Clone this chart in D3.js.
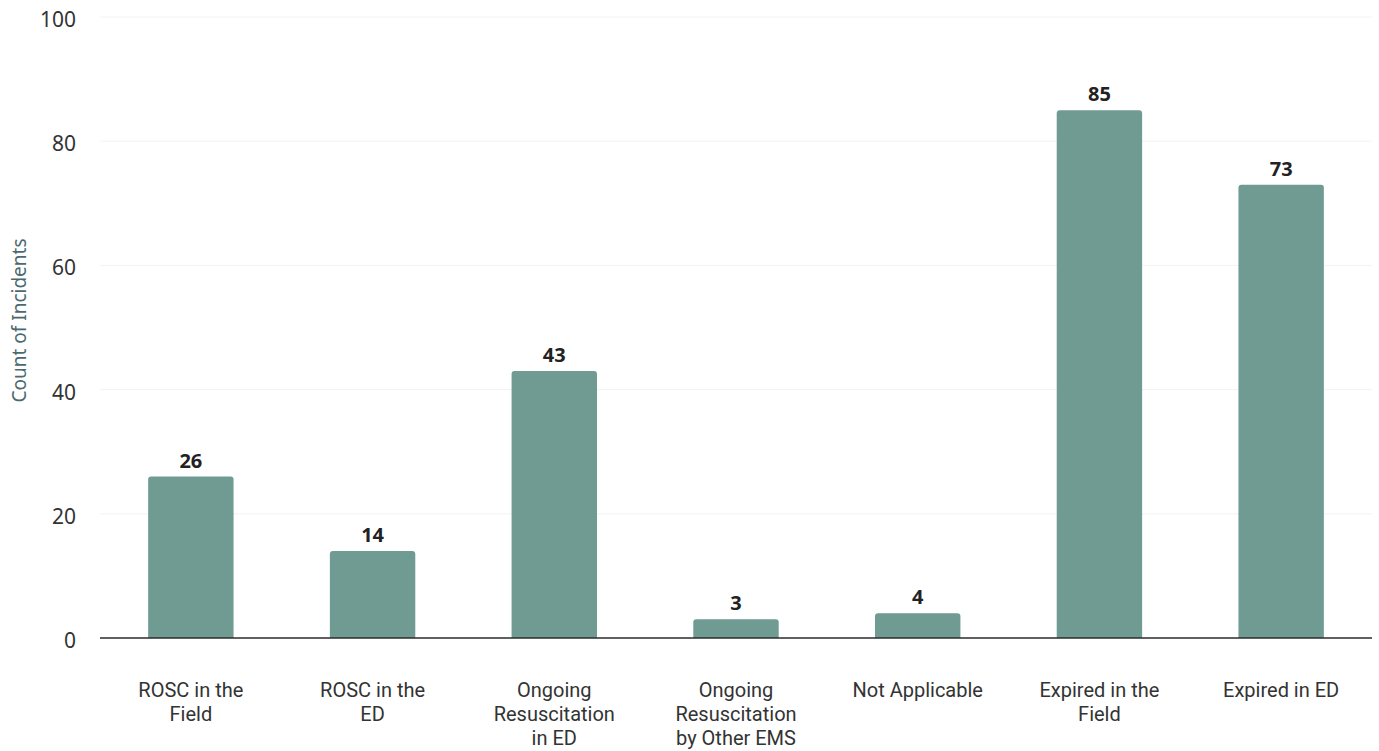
<!DOCTYPE html>
<html>
<head>
<meta charset="utf-8">
<script src="https://cdn.jsdelivr.net/npm/d3@7"></script>
<style>
  body { margin: 0; background: #fff; }
  text { font-family: "Noto Sans", "Open Sans", sans-serif; }
</style>
</head>
<body>
<svg id="chart_svg"></svg>
<script>
var viewWidth = 1379;
var viewHeight = 751;

// data
var categories = ["ROSC in the|Field", "ROSC in the|ED", "Ongoing|Resuscitation|in ED",
  "Ongoing|Resuscitation|by Other EMS", "Not Applicable", "Expired in the|Field", "Expired in ED"];
var counts = [26, 14, 43, 3, 4, 85, 73];
var yTicks = [0, 20, 40, 60, 80, 100];

var margin = {top: 17, right: 7, bottom: 113, left: 100};
var width = viewWidth - margin.left - margin.right;
var height = viewHeight - margin.top - margin.bottom;

var svg = d3.select("#chart_svg")
    .attr("width", viewWidth)
    .attr("height", viewHeight)
  .append("g")
    .attr("transform", "translate(" + margin.left + "," + margin.top + ")");

var x = d3.scaleBand()
  .domain(categories)
  .range([0, width])
  .paddingInner(0.53)
  .paddingOuter(0.265);
var y = d3.scaleLinear()
  .domain([0, 100])
  .range([height, 0]);

// faint gridlines
svg.append("g")
    .selectAll("line")
    .data(yTicks.filter(function(d) { return d > 0; }))
  .enter().append("line")
    .attr("x1", 0)
    .attr("x2", width)
    .attr("y1", function(d) { return y(d); })
    .attr("y2", function(d) { return y(d); })
    .style("stroke", "#f2f2f2")
    .style("stroke-width", 1);

// y axis (labels only)
var yAxis = d3.axisLeft(y).tickValues(yTicks).tickSize(0).tickPadding(24);
svg.append("g")
    .attr("class", "y axis")
    .call(yAxis)
    .call(function(g) { g.select(".domain").remove(); })
    .selectAll("text")
    .attr("dy", "0.45em")
    .style("font-size", "21px")
    .style("fill", "#333");

svg.append("text")
    .attr("transform", "rotate(-90)")
    .attr("x", -y(50) + 7)
    .attr("y", -74)
    .style("text-anchor", "middle")
    .style("font-size", "19px")
    .style("fill", "#4a6a6f")
    .text("Count of Incidents");

// bars with rounded tops
var r = 3;
function barPath(d, i) {
  var x0 = x(categories[i]), w = x.bandwidth();
  var y0 = y(d), y1 = y(0);
  var rr = Math.min(r, (y1 - y0));
  return "M" + x0 + "," + y1 +
    "V" + (y0 + rr) +
    "Q" + x0 + "," + y0 + " " + (x0 + rr) + "," + y0 +
    "H" + (x0 + w - rr) +
    "Q" + (x0 + w) + "," + y0 + " " + (x0 + w) + "," + (y0 + rr) +
    "V" + y1 + "Z";
}

svg.selectAll(".bar")
    .data(counts)
  .enter().append("path")
    .attr("class", "bar")
    .attr("d", barPath)
    .style("fill", "#6f9b92");

svg.selectAll(".value")
    .data(counts)
  .enter().append("text")
    .attr("class", "value")
    .attr("x", function(d, i) { return x(categories[i]) + x.bandwidth() / 2; })
    .attr("y", function(d) { return y(d) - 9; })
    .style("text-anchor", "middle")
    .style("font-size", "20px")
    .style("font-weight", "bold")
    .style("fill", "#222")
    .text(function(d) { return d; });

// baseline
svg.append("line")
    .attr("x1", 0)
    .attr("x2", width)
    .attr("y1", y(0))
    .attr("y2", y(0))
    .style("stroke", "#2b2b2b")
    .style("stroke-width", 1.5);

// x labels, wrapped
var xLabels = svg.append("g")
    .attr("transform", "translate(0," + y(0) + ")")
    .selectAll("text")
    .data(categories)
  .enter().append("text")
    .attr("x", function(d) { return x(d) + x.bandwidth() / 2; })
    .attr("y", 59)
    .style("text-anchor", "middle")
    .style("font-family", "Roboto, sans-serif")
    .style("font-size", "20px")
    .style("fill", "#333");

xLabels.each(function(d) {
  var t = d3.select(this);
  d.split("|").forEach(function(line, k) {
    t.append("tspan")
      .attr("x", t.attr("x"))
      .attr("dy", k === 0 ? 0 : 24)
      .text(line);
  });
});
</script>
</body>
</html>
